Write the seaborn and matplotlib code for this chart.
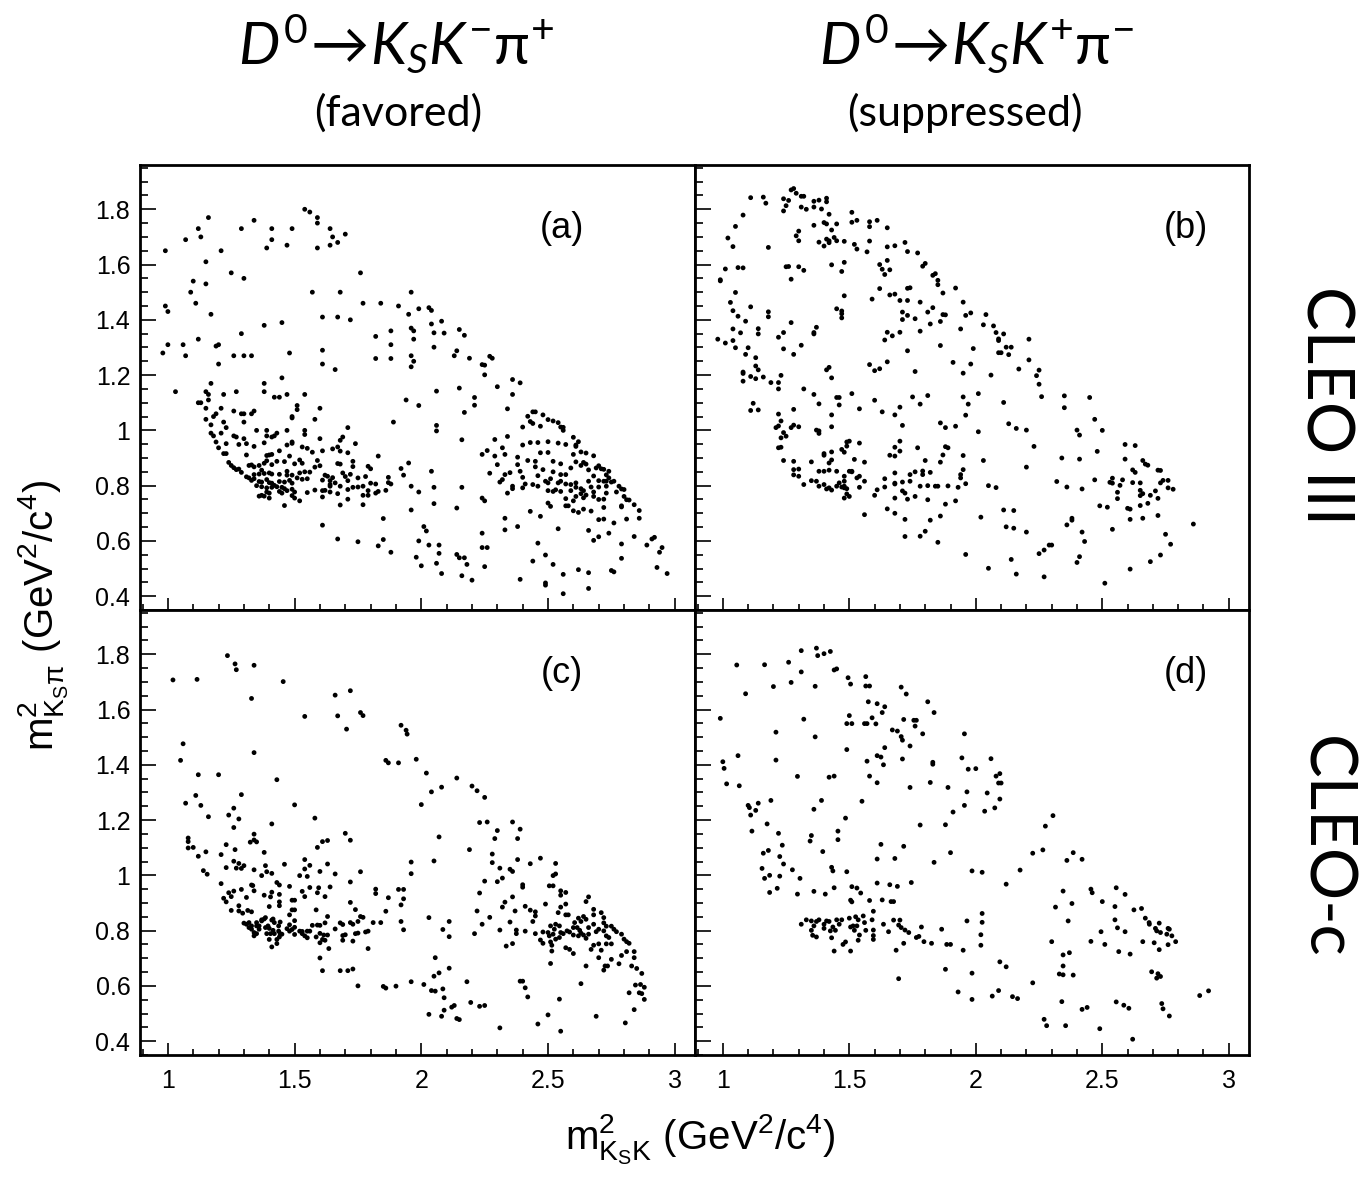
import matplotlib
matplotlib.use("Agg")
import matplotlib.pyplot as plt
import matplotlib.ticker as mticker
import pandas as pd
import seaborn as sns

# (m2_KsK, m2_Kspi) candidates, GeV^2/c^4
# (a) favored, CLEO III
fav_cleo3 = [
    (1.54,1.80),(1.56,1.79),(1.16,1.77),(1.59,1.77),(1.59,1.75),(1.34,1.76),(1.12,1.73),(1.29,1.73),
    (1.41,1.73),(1.49,1.73),(1.64,1.73),(1.13,1.70),(1.07,1.69),(1.41,1.69),(1.65,1.70),(1.67,1.68),
    (1.70,1.71),(1.64,1.67),(1.39,1.66),(1.47,1.67),(1.59,1.66),(0.99,1.65),(1.21,1.65),(1.15,1.61),
    (1.25,1.57),(1.30,1.55),(1.76,1.57),(1.10,1.54),(1.15,1.53),(1.09,1.50),(1.57,1.50),(1.68,1.50),
    (1.96,1.50),(1.11,1.46),(0.99,1.45),(1.00,1.43),(1.77,1.46),(1.84,1.46),(1.91,1.45),(1.99,1.44),
    (1.95,1.42),(1.17,1.42),(1.61,1.41),(1.67,1.41),(1.72,1.40),(1.45,1.39),(1.38,1.38),(1.96,1.37),
    (1.97,1.36),(1.88,1.36),(1.29,1.35),(1.12,1.33),(1.82,1.34),(1.97,1.33),(1.00,1.31),(1.06,1.31),
    (1.88,1.31),(1.19,1.305),(1.20,1.31),(0.98,1.28),(1.07,1.27),(1.61,1.29),(1.48,1.28),(1.26,1.27),
    (1.30,1.27),(1.33,1.27),(1.96,1.27),(1.97,1.25),(1.61,1.24),(1.82,1.26),(1.88,1.26),(1.96,1.23),
    (1.20,1.24),(1.66,1.22),(1.45,1.19),(1.17,1.17),(1.38,1.17),(1.38,1.14),(1.03,1.14),(1.15,1.14),
    (1.16,1.13),(1.22,1.13),(1.27,1.14),(1.42,1.12),(1.44,1.12),(1.47,1.13),(1.54,1.13),(1.94,1.11),
    (1.99,1.09),(1.12,1.10),(1.13,1.10),(1.16,1.11),(1.15,1.08),(1.51,1.09),(1.51,1.075),(1.60,1.08),
    (1.26,1.07),(1.19,1.06),(1.18,1.05),(1.21,1.08),(1.30,1.06),(1.29,1.06),(1.33,1.06),(1.34,1.07),
    (1.49,1.05),(1.49,1.045),(1.58,1.04),(1.15,1.04),(1.30,1.03),(1.22,1.03),(1.89,1.03),(1.17,1.02),
    (1.21,0.99),(1.23,1.01),(1.17,0.99),(1.18,0.98),(1.35,1.00),(1.47,1.00),(1.54,1.00),(1.54,0.985),
    (1.71,1.01),(1.39,1.00),(1.43,0.99),(1.26,0.98),(1.27,0.976),(1.30,0.97),(1.39,0.98),(1.41,0.976),
    (1.42,0.98),(1.60,0.97),(1.69,0.976),(1.68,0.964),(1.19,0.958),(1.23,0.952),(1.28,0.949),(1.31,0.952),
    (1.38,0.955),(1.49,0.953),(1.47,0.947),(1.49,0.958),(1.53,0.94),(1.55,0.935),(1.57,0.921),(1.61,0.926),
    (1.65,0.933),(1.67,0.94),(1.68,0.925),(1.74,0.952),(1.71,0.919),(1.20,0.937),(1.22,0.916),(1.23,0.916),
    (1.34,0.942),(1.44,0.926),(1.31,0.911),(1.39,0.909),(1.40,0.911),(1.41,0.913),(1.48,0.907),(1.83,0.907),
    (1.24,0.884),(1.52,0.893),(1.53,0.881),(1.59,0.891),(1.73,0.888),(1.25,0.873),(1.26,0.865),(1.27,0.858),
    (1.28,0.86),(1.29,0.848),(1.32,0.873),(1.33,0.875),(1.34,0.868),(1.36,0.873),(1.38,0.881),(1.39,0.89),
    (1.41,0.876),(1.43,0.888),(1.46,0.887),(1.50,0.879),(1.58,0.867),(1.60,0.872),(1.67,0.88),(1.68,0.878),
    (1.73,0.869),(1.79,0.87),(1.80,0.861),(1.92,0.862),(1.95,0.882),(1.31,0.832),(1.32,0.828),(1.34,0.84),
    (1.34,0.825),(1.36,0.842),(1.37,0.856),(1.38,0.844),(1.40,0.846),(1.41,0.842),(1.44,0.841),(1.47,0.852),
    (1.47,0.838),(1.49,0.838),(1.52,0.846),(1.54,0.85),(1.56,0.849),(1.62,0.838),(1.63,0.834),(1.65,0.829),
    (1.69,0.846),(1.70,0.833),(1.72,0.841),(1.75,0.828),(1.78,0.833),(1.87,0.83),(1.93,0.838),(1.33,0.819),
    (1.36,0.815),(1.37,0.813),(1.39,0.822),(1.40,0.811),(1.41,0.809),(1.42,0.801),(1.44,0.815),(1.46,0.813),
    (1.48,0.819),(1.51,0.828),(1.53,0.823),(1.55,0.825),(1.61,0.82),(1.64,0.818),(1.66,0.81),(1.71,0.818),
    (1.73,0.794),(1.75,0.795),(1.80,0.809),(1.82,0.806),(1.87,0.811),(1.88,0.806),(1.35,0.80),(1.37,0.796),
    (1.39,0.792),(1.41,0.794),(1.43,0.796),(1.45,0.794),(1.46,0.789),(1.49,0.809),(1.49,0.787),(1.64,0.804),
    (1.64,0.798),(1.68,0.798),(1.77,0.798),(1.71,0.786),(1.96,0.798),(1.99,0.777),(1.61,0.782),(1.62,0.783),
    (1.39,0.777),(1.40,0.773),(1.44,0.779),(1.45,0.773),(1.47,0.782),(1.50,0.777),(1.55,0.775),(1.58,0.784),
    (1.64,0.777),(1.67,0.771),(1.79,0.782),(1.82,0.773),(1.83,0.779),(1.86,0.783),(1.36,0.762),(1.37,0.765),
    (1.38,0.762),(1.40,0.755),(1.49,0.764),(1.50,0.755),(1.61,0.759),(1.71,0.751),(1.52,0.745),(1.77,0.765),
    (1.79,0.765),(1.46,0.728),(1.68,0.73),(1.77,0.731),(1.96,0.712),(1.85,0.681),(1.61,0.657),(1.67,0.607),
    (1.75,0.597),(1.85,0.605),(1.83,0.582),(1.99,0.60),(1.88,0.559),(1.98,0.541),
    (2.03,1.444),(2.04,1.434),(2.04,1.385),(2.08,1.395),(2.05,1.353),(2.09,1.352),(2.15,1.365),(2.17,1.344),
    (2.05,1.301),(2.13,1.27),(2.14,1.288),(2.19,1.261),(2.24,1.238),(2.25,1.236),(2.27,1.268),(2.28,1.261),
    (2.25,1.201),(2.15,1.153),(2.06,1.142),(2.21,1.119),(2.21,1.091),(2.30,1.158),(2.36,1.184),(2.39,1.172),
    (2.36,1.13),(2.34,1.078),(2.17,1.065),(2.06,1.018),(2.06,0.998),(2.16,0.966),(2.42,1.051),(2.43,1.032),
    (2.44,1.067),(2.45,1.067),(2.44,1.025),(2.47,1.015),(2.40,1.012),(2.48,1.056),(2.50,1.039),(2.52,1.034),
    (2.54,1.028),(2.55,1.012),(2.56,1.011),(2.56,1.00),(2.60,0.975),(2.62,0.959),(2.61,0.942),(2.63,0.922),
    (2.65,0.918),(2.68,0.908),(2.64,0.884),(2.60,0.913),(2.61,0.886),(2.63,0.873),(2.65,0.878),(2.66,0.857),
    (2.69,0.864),(2.70,0.872),(2.71,0.861),(2.72,0.859),(2.74,0.852),(2.73,0.839),(2.73,0.816),(2.75,0.813),
    (2.76,0.816),(2.72,0.816),(2.70,0.818),(2.68,0.835),(2.66,0.816),(2.67,0.795),(2.70,0.795),(2.73,0.798),
    (2.74,0.828),(2.78,0.798),(2.80,0.786),(2.79,0.788),(2.68,0.777),(2.68,0.761),(2.70,0.75),(2.72,0.751),
    (2.73,0.773),(2.77,0.777),(2.80,0.761),(2.81,0.749),(2.82,0.748),(2.84,0.731),(2.86,0.71),(2.86,0.682),
    (2.81,0.679),(2.76,0.665),(2.79,0.727),(2.79,0.723),(2.72,0.721),(2.72,0.679),(2.70,0.677),(2.67,0.708),
    (2.64,0.715),(2.62,0.703),(2.60,0.709),(2.58,0.727),(2.57,0.727),(2.57,0.753),(2.60,0.745),(2.61,0.761),
    (2.63,0.771),(2.64,0.756),(2.65,0.766),(2.64,0.782),(2.63,0.789),(2.61,0.794),(2.61,0.81),(2.59,0.782),
    (2.59,0.804),(2.57,0.806),(2.55,0.816),(2.54,0.81),(2.53,0.785),(2.55,0.779),(2.52,0.779),(2.50,0.782),
    (2.50,0.81),(2.51,0.825),(2.52,0.85),(2.55,0.84),(2.57,0.84),(2.59,0.864),(2.55,0.879),(2.52,0.888),
    (2.50,0.92),(2.54,0.954),(2.57,0.949),(2.61,0.947),(2.50,0.959),(2.46,0.956),(2.43,0.956),(2.40,0.947),
    (2.38,0.903),(2.42,0.891),(2.45,0.888),(2.47,0.919),(2.45,0.868),(2.46,0.836),(2.48,0.858),(2.49,0.816),
    (2.46,0.798),(2.44,0.804),(2.41,0.806),(2.40,0.792),(2.40,0.83),(2.39,0.852),(2.38,0.876),(2.36,0.798),
    (2.36,0.789),(2.34,0.773),(2.31,0.813),(2.32,0.822),(2.33,0.84),(2.35,0.847),(2.27,0.845),(2.30,0.876),
    (2.24,0.913),(2.26,0.927),(2.29,0.907),(2.33,0.913),(2.29,0.967),(2.34,0.978),(2.32,0.937),(2.43,0.707),
    (2.47,0.689),(2.50,0.737),(2.51,0.725),(2.54,0.644),(2.66,0.638),(2.68,0.602),(2.70,0.615),(2.74,0.628),
    (2.79,0.589),(2.84,0.616),(2.89,0.585),(2.91,0.607),(2.92,0.613),(2.95,0.576),(2.94,0.559),(2.93,0.504),
    (2.97,0.482),(2.79,0.537),(2.75,0.493),(2.76,0.488),(2.66,0.485),(2.66,0.428),(2.62,0.496),(2.56,0.409),
    (2.56,0.479),(2.52,0.515),(2.49,0.549),(2.49,0.448),(2.49,0.44),(2.46,0.592),(2.44,0.527),(2.39,0.461),
    (2.38,0.652),(2.33,0.682),(2.33,0.64),(2.24,0.628),(2.24,0.576),(2.26,0.576),(2.25,0.507),(2.20,0.458),
    (2.16,0.474),(2.18,0.515),(2.17,0.539),(2.15,0.539),(2.14,0.551),(2.14,0.719),(2.08,0.482),(2.07,0.555),
    (2.06,0.519),(2.07,0.585),(2.03,0.585),(2.02,0.636),(2.01,0.652),(2.00,0.51),(2.05,0.735),(2.05,0.794),
    (2.04,0.852),(2.16,0.794),(2.24,0.755),(2.25,0.745),
]

# (b) suppressed, CLEO III
sup_cleo3 = [
    (1.27,1.87),(1.28,1.875),(1.29,1.858),(1.11,1.842),(1.16,1.844),(1.17,1.822),(1.24,1.838),(1.26,1.832),
    (1.31,1.847),(1.32,1.847),(1.36,1.829),(1.38,1.833),(1.41,1.84),(1.41,1.827),(1.25,1.813),(1.24,1.794),
    (1.31,1.808),(1.33,1.80),(1.36,1.808),(1.39,1.801),(1.08,1.779),(1.42,1.782),(1.51,1.789),(1.51,1.753),
    (1.53,1.76),(1.58,1.755),(1.61,1.76),(1.58,1.737),(1.65,1.733),(1.05,1.738),(1.36,1.742),(1.40,1.752),
    (1.41,1.747),(1.45,1.747),(1.43,1.725),(1.02,1.696),(1.04,1.665),(1.18,1.662),(1.29,1.704),(1.30,1.721),
    (1.30,1.686),(1.38,1.681),(1.40,1.667),(1.41,1.692),(1.42,1.686),(1.42,1.679),(1.44,1.698),(1.45,1.686),
    (1.48,1.684),(1.52,1.673),(1.53,1.656),(1.57,1.646),(1.58,1.685),(1.65,1.664),(1.68,1.668),(1.72,1.68),
    (1.73,1.647),(1.77,1.642),(0.99,1.545),(0.99,1.541),(1.01,1.584),(1.06,1.589),(1.08,1.588),(1.25,1.592),
    (1.26,1.593),(1.27,1.547),(1.30,1.592),(1.32,1.579),(1.43,1.599),(1.48,1.608),(1.47,1.575),(1.62,1.60),
    (1.63,1.583),(1.64,1.564),(1.65,1.615),(1.66,1.581),(1.79,1.594),(1.80,1.604),(1.83,1.561),(1.84,1.567),
    (1.85,1.543),(1.85,1.527),(1.87,1.497),(1.92,1.515),(1.05,1.499),(1.03,1.463),(1.04,1.433),(1.06,1.413),
    (1.11,1.447),(1.09,1.395),(1.04,1.367),(1.07,1.353),(1.14,1.368),(1.14,1.349),(1.18,1.429),(1.18,1.411),
    (1.27,1.39),(1.22,1.337),(1.24,1.354),(1.24,1.295),(1.28,1.275),(1.31,1.308),(1.36,1.349),(1.36,1.354),
    (1.37,1.373),(1.45,1.44),(1.47,1.432),(1.47,1.422),(1.47,1.407),(1.48,1.487),(1.59,1.475),(1.62,1.513),
    (1.66,1.49),(1.68,1.493),(1.70,1.47),(1.71,1.428),(1.71,1.401),(1.73,1.47),(1.73,1.416),(1.73,1.514),
    (1.74,1.516),(1.76,1.404),(1.78,1.464),(1.81,1.428),(1.83,1.444),(1.82,1.385),(1.86,1.394),(1.87,1.419),
    (1.88,1.418),(1.95,1.464),(1.96,1.416),(1.98,1.425),(1.94,1.367),(1.86,1.307),(1.78,1.359),(1.70,1.355),
    (1.65,1.355),(1.67,1.342),(1.64,1.327),(1.73,1.288),(0.98,1.33),(1.01,1.316),(1.04,1.325),(1.05,1.299),
    (1.10,1.299),(1.09,1.275),(1.13,1.263),(1.13,1.233),(1.14,1.219),(1.08,1.211),(1.08,1.206),(1.08,1.178),
    (1.11,1.195),(1.13,1.187),(1.16,1.193),(1.19,1.173),(1.22,1.173),(1.22,1.15),(1.23,1.199),(1.11,1.072),
    (1.12,1.098),(1.14,1.074),(1.32,1.15),(1.36,1.13),(1.38,1.096),(1.41,1.219),(1.42,1.228),(1.43,1.19),
    (1.45,1.119),(1.46,1.119),(1.46,1.092),(1.51,1.133),(1.54,1.078),(1.58,1.238),(1.60,1.216),(1.62,1.223),
    (1.65,1.248),(1.76,1.213),(1.60,1.109),(1.63,1.067),(1.68,1.056),(1.70,1.084),(1.71,1.018),(1.70,0.961),
    (1.68,0.939),(1.75,1.121),(1.78,1.095),(1.81,1.126),(1.77,0.937),(1.91,1.246),(1.95,1.207),(1.98,1.24),
    (1.95,1.121),(1.97,1.095),(1.96,1.055),(1.86,1.027),(1.88,1.01),(1.92,1.015),(1.88,0.941),(1.89,0.937),
    (1.87,0.911),(1.86,0.885),(1.95,0.909),(1.80,0.891),(1.95,0.858),(1.94,0.84),(1.94,0.828),(1.96,0.807),
    (1.93,0.794),(1.89,0.799),(1.85,0.798),(1.84,0.798),(1.82,0.848),(1.79,0.853),(1.79,0.84),(1.78,0.798),
    (1.81,0.80),(1.76,0.85),(1.74,0.84),(1.74,0.816),(1.71,0.813),(1.71,0.781),(1.72,0.773),(1.73,0.751),
    (1.76,0.761),(1.81,0.749),(1.88,0.733),(1.92,0.745),(1.86,0.69),(1.82,0.675),(1.72,0.678),(1.72,0.616),
    (1.78,0.617),(1.80,0.635),(1.85,0.595),(1.96,0.551),(1.68,0.70),(1.65,0.716),(1.68,0.755),(1.68,0.806),
    (1.68,0.809),(1.68,0.846),(1.64,0.825),(1.64,0.795),(1.61,0.785),(1.60,0.765),(1.68,0.907),(1.66,0.91),
    (1.70,0.925),(1.54,0.834),(1.56,0.816),(1.54,0.794),(1.53,0.828),(1.51,0.85),(1.52,0.895),(1.54,0.954),
    (1.56,0.885),(1.56,0.695),(1.49,0.958),(1.50,0.961),(1.47,0.931),(1.49,0.943),(1.48,0.921),(1.50,0.761),
    (1.48,0.755),(1.49,0.77),(1.48,0.792),(1.48,0.798),(1.49,0.789),(1.47,0.795),(1.48,0.816),(1.48,0.834),
    (1.50,0.852),(1.51,0.852),(1.46,0.81),(1.45,0.798),(1.42,0.792),(1.43,0.784),(1.41,0.788),(1.40,0.804),
    (1.38,0.798),(1.37,0.816),(1.35,0.818),(1.32,0.804),(1.45,0.852),(1.42,0.856),(1.40,0.852),(1.38,0.852),
    (1.35,0.886),(1.42,0.882),(1.43,0.893),(1.43,0.922),(1.40,0.91),(1.40,0.916),(1.43,1.013),(1.43,1.056),
    (1.24,0.891),(1.28,0.888),(1.28,0.858),(1.30,0.86),(1.28,0.839),(1.30,0.834),(1.22,0.937),(1.23,0.939),
    (1.23,0.973),(1.24,0.992),(1.25,0.979),(1.21,1.01),(1.22,1.016),(1.23,1.034),(1.22,1.059),(1.28,1.019),
    (1.30,1.013),(1.27,1.01),(1.28,1.076),(1.37,1.001),(1.38,0.998),(1.38,0.989),
    (2.04,1.419),(2.03,1.382),(2.07,1.378),(2.08,1.354),(2.09,1.331),(2.09,1.325),(2.11,1.349),(2.12,1.301),
    (2.14,1.301),(2.09,1.281),(2.10,1.281),(2.13,1.274),(1.99,1.296),(2.06,1.20),(2.21,1.33),(2.21,1.255),
    (2.17,1.222),(2.25,1.218),(2.24,1.198),(2.25,1.167),(2.26,1.122),(2.11,1.101),(2.01,1.133),(2.13,1.024),
    (2.16,1.007),(2.20,1.001),(2.01,0.995),(2.23,0.942),(2.35,1.125),(2.35,1.082),(2.45,1.119),(2.47,1.04),
    (2.50,1.00),(2.40,1.001),(2.41,0.983),(2.48,0.924),(2.34,0.90),(2.41,0.896),(2.03,0.891),(2.20,0.867),
    (2.05,0.80),(2.08,0.793),(2.32,0.815),(2.36,0.795),(2.42,0.788),(2.47,0.821),(2.59,0.949),(2.63,0.945),
    (2.59,0.896),(2.62,0.857),(2.63,0.848),(2.66,0.891),(2.67,0.878),(2.68,0.874),(2.72,0.856),(2.73,0.855),
    (2.74,0.819),(2.73,0.81),(2.76,0.819),(2.76,0.792),(2.78,0.787),(2.71,0.781),(2.72,0.754),(2.68,0.736),
    (2.69,0.765),(2.65,0.783),(2.66,0.771),(2.65,0.764),(2.65,0.81),(2.62,0.811),(2.58,0.821),(2.57,0.801),
    (2.54,0.827),(2.54,0.809),(2.53,0.812),(2.56,0.776),(2.56,0.753),(2.60,0.718),(2.61,0.715),(2.61,0.678),
    (2.65,0.728),(2.66,0.682),(2.72,0.692),(2.49,0.727),(2.52,0.722),(2.54,0.642),(2.75,0.624),(2.77,0.588),
    (2.73,0.549),(2.69,0.525),(2.61,0.498),(2.51,0.447),(2.86,0.661),(2.40,0.522),(2.41,0.543),(2.43,0.598),
    (2.42,0.632),(2.36,0.658),(2.38,0.675),(2.38,0.682),(2.29,0.585),(2.30,0.585),(2.27,0.567),(2.25,0.554),
    (2.27,0.47),(2.20,0.632),(2.15,0.646),(2.12,0.651),(2.11,0.712),(2.15,0.71),(2.02,0.686),(2.14,0.533),
    (2.16,0.48),(2.05,0.501),
]

# (c) favored, CLEO-c
fav_cleoc = [
    (1.235,1.795),(1.265,1.765),(1.27,1.744),(1.34,1.76),(1.02,1.707),(1.115,1.709),(1.455,1.701),(1.33,1.64),
    (1.66,1.652),(1.72,1.668),(1.67,1.577),(1.76,1.589),(1.77,1.578),(1.54,1.575),(1.705,1.529),(1.92,1.543),
    (1.94,1.525),(1.944,1.511),(1.06,1.476),(1.34,1.444),(1.05,1.416),(1.86,1.416),(1.87,1.407),(1.91,1.407),
    (1.98,1.42),(1.12,1.364),(1.20,1.364),(1.43,1.346),(1.11,1.289),(1.29,1.292),(1.07,1.261),(1.13,1.253),
    (1.50,1.255),(1.26,1.243),(1.24,1.218),(1.28,1.204),(1.16,1.212),(1.58,1.207),(1.41,1.186),(1.26,1.173),
    (1.70,1.152),(1.34,1.149),(1.08,1.135),(1.08,1.122),(1.34,1.128),(1.35,1.121),(1.325,1.12),(1.61,1.122),
    (1.63,1.126),(1.72,1.127),(1.08,1.099),(1.10,1.101),(1.23,1.111),(1.59,1.101),(1.15,1.085),(1.12,1.069),
    (1.21,1.075),(1.265,1.093),(1.38,1.083),(1.26,1.051),(1.28,1.043),(1.27,1.026),(1.29,1.025),(1.30,1.035),
    (1.23,1.028),(1.14,1.017),(1.155,1.004),(1.34,1.02),(1.385,1.035),(1.39,1.013),(1.41,1.007),(1.37,0.999),
    (1.46,1.04),(1.54,1.057),(1.54,1.023),(1.56,1.036),(1.52,0.999),(1.55,0.996),(1.60,1.014),(1.63,1.041),
    (1.66,1.005),(1.76,1.013),(1.96,1.048),(1.96,1.006),(1.72,0.976),(1.21,0.97),(1.33,0.965),(1.335,0.963),
    (1.24,0.937),(1.34,0.944),(1.43,0.974),(1.44,0.965),(1.48,0.96),(1.56,0.956),(1.595,0.955),(1.64,0.958),
    (1.82,0.95),(1.82,0.934),(1.91,0.949),(1.93,0.949),(1.22,0.917),(1.23,0.904),(1.25,0.923),(1.26,0.943),
    (1.29,0.949),(1.31,0.92),(1.38,0.928),(1.405,0.922),(1.41,0.939),(1.44,0.931),(1.53,0.942),(1.54,0.923),
    (1.59,0.937),(1.62,0.923),(1.87,0.919),(1.93,0.915),(1.92,0.893),(1.25,0.873),(1.28,0.89),(1.28,0.871),
    (1.295,0.863),(1.315,0.873),(1.33,0.868),(1.40,0.887),(1.44,0.904),(1.44,0.89),(1.49,0.91),(1.50,0.91),
    (1.49,0.875),(1.50,0.875),(1.48,0.857),(1.585,0.875),(1.72,0.902),(1.74,0.876),(1.86,0.87),(1.63,0.851),
    (1.76,0.851),(1.77,0.848),(1.75,0.833),(1.73,0.823),(1.72,0.829),(1.69,0.822),(1.68,0.828),(1.81,0.829),
    (1.84,0.829),(1.92,0.833),(1.93,0.803),(1.66,0.806),(1.62,0.828),(1.60,0.819),(1.59,0.82),(1.57,0.819),
    (1.56,0.798),(1.55,0.798),(1.53,0.797),(1.52,0.798),(1.50,0.836),(1.50,0.812),(1.48,0.821),(1.47,0.807),
    (1.49,0.804),(1.48,0.798),(1.50,0.786),(1.53,0.789),(1.54,0.781),(1.55,0.774),(1.585,0.777),(1.60,0.79),
    (1.615,0.784),(1.63,0.784),(1.61,0.768),(1.60,0.756),(1.62,0.765),(1.635,0.735),(1.69,0.782),(1.70,0.785),
    (1.69,0.765),(1.74,0.789),(1.75,0.791),(1.73,0.762),(1.78,0.795),(1.79,0.798),(1.79,0.735),(1.60,0.701),
    (1.61,0.655),(1.68,0.655),(1.71,0.655),(1.73,0.661),(1.75,0.60),(1.85,0.598),(1.86,0.592),(1.90,0.599),
    (1.96,0.615),(1.30,0.827),(1.31,0.823),(1.32,0.829),(1.32,0.811),(1.33,0.817),(1.33,0.805),(1.34,0.793),
    (1.34,0.781),(1.35,0.817),(1.35,0.829),(1.36,0.817),(1.36,0.805),(1.35,0.789),(1.37,0.839),(1.38,0.842),
    (1.385,0.847),(1.37,0.835),(1.385,0.811),(1.39,0.789),(1.395,0.817),(1.40,0.808),(1.41,0.838),(1.415,0.842),
    (1.42,0.829),(1.415,0.801),(1.405,0.789),(1.42,0.789),(1.40,0.768),(1.41,0.741),(1.43,0.753),(1.43,0.768),
    (1.44,0.777),(1.443,0.789),(1.45,0.787),(1.437,0.798),(1.437,0.817),(1.443,0.831),
    (2.02,1.37),(2.04,1.302),(2.08,1.319),(2.14,1.352),(2.00,1.256),(2.20,1.323),(2.22,1.306),(2.25,1.282),
    (2.07,1.139),(2.23,1.191),(2.26,1.193),(2.36,1.193),(2.39,1.167),(2.30,1.162),(2.29,1.133),(2.38,1.133),
    (2.19,1.093),(2.05,1.052),(2.28,1.077),(2.28,1.046),(2.38,1.057),(2.43,1.042),(2.47,1.062),(2.53,1.043),
    (2.31,1.026),(2.35,1.022),(2.36,1.014),(2.32,0.99),(2.30,0.977),(2.25,0.979),(2.23,0.936),(2.36,0.922),
    (2.40,0.957),(2.40,0.966),(2.505,0.962),(2.52,0.962),(2.52,0.999),(2.53,1.005),(2.55,0.944),(2.55,0.928),
    (2.57,0.938),(2.49,0.896),(2.41,0.888),(2.43,0.874),(2.45,0.868),(2.32,0.885),(2.33,0.903),(2.37,0.871),
    (2.35,0.831),(2.44,0.833),(2.45,0.853),(2.55,0.885),(2.57,0.896),(2.54,0.865),(2.57,0.857),(2.58,0.857),
    (2.65,0.905),(2.66,0.922),(2.68,0.877),(2.68,0.857),(2.71,0.865),(2.72,0.847),(2.72,0.828),(2.73,0.816),
    (2.75,0.816),(2.76,0.805),(2.77,0.796),(2.79,0.787),(2.80,0.769),(2.81,0.76),(2.82,0.754),(2.72,0.799),
    (2.73,0.781),(2.74,0.775),(2.70,0.805),(2.69,0.796),(2.68,0.823),(2.66,0.811),(2.66,0.787),(2.65,0.841),
    (2.64,0.851),(2.63,0.833),(2.62,0.845),(2.605,0.829),(2.60,0.811),(2.615,0.811),(2.625,0.801),(2.63,0.791),
    (2.64,0.784),(2.65,0.772),(2.62,0.781),(2.60,0.784),(2.585,0.795),(2.575,0.799),(2.56,0.789),(2.55,0.793),
    (2.545,0.817),(2.53,0.823),(2.525,0.805),(2.52,0.787),(2.53,0.769),(2.545,0.775),(2.51,0.817),(2.50,0.793),
    (2.505,0.781),(2.51,0.759),(2.515,0.747),(2.515,0.726),(2.51,0.681),(2.48,0.795),(2.47,0.766),(2.48,0.754),
    (2.57,0.738),(2.585,0.732),(2.60,0.717),(2.67,0.732),(2.68,0.747),(2.70,0.752),(2.71,0.729),(2.73,0.752),
    (2.75,0.752),(2.70,0.702),(2.725,0.672),(2.735,0.672),(2.72,0.657),(2.75,0.696),(2.78,0.68),(2.79,0.71),
    (2.81,0.724),(2.84,0.724),(2.84,0.702),(2.83,0.672),(2.85,0.663),(2.87,0.645),(2.845,0.603),(2.865,0.605),
    (2.88,0.595),(2.86,0.575),(2.87,0.572),(2.88,0.551),(2.82,0.575),(2.84,0.514),(2.805,0.466),(2.65,0.672),
    (2.63,0.608),(2.69,0.49),(2.545,0.552),(2.50,0.495),(2.55,0.436),(2.46,0.462),(2.31,0.448),(2.39,0.617),
    (2.40,0.617),(2.41,0.593),(2.42,0.56),(2.18,0.615),(2.195,0.54),(2.23,0.526),(2.25,0.529),(2.14,0.482),
    (2.15,0.478),(2.13,0.529),(2.12,0.523),(2.11,0.664),(2.085,0.589),(2.09,0.557),(2.09,0.512),(2.08,0.49),
    (2.055,0.702),(2.07,0.647),(2.05,0.635),(2.04,0.583),(2.055,0.581),(2.01,0.605),(2.03,0.497),(2.03,0.847),
    (2.085,0.804),(2.11,0.833),(2.11,0.778),(2.21,0.789),(2.22,0.871),(2.24,0.823),(2.27,0.848),(2.31,0.802),
    (2.335,0.744),(2.36,0.753),(2.375,0.802),(2.375,0.789),(2.41,0.798),(2.45,0.789),
]

# (d) suppressed, CLEO-c
sup_cleoc = [
    (1.37,1.822),(1.375,1.795),(1.40,1.802),(1.425,1.81),(1.31,1.813),(1.26,1.771),(1.055,1.761),(1.165,1.762),
    (1.31,1.736),(1.44,1.743),(1.45,1.747),(1.27,1.698),(1.20,1.683),(1.365,1.684),(1.495,1.715),(1.505,1.692),
    (1.565,1.719),(1.565,1.685),(1.58,1.685),(1.705,1.681),(1.725,1.656),(1.09,1.657),(1.81,1.628),(1.835,1.589),
    (1.575,1.628),(1.61,1.621),(1.64,1.61),(1.63,1.589),(0.99,1.568),(1.32,1.565),(1.49,1.549),(1.51,1.549),
    (1.50,1.578),(1.56,1.549),(1.57,1.549),(1.59,1.57),(1.605,1.548),(1.715,1.564),(1.755,1.561),(1.765,1.561),
    (1.76,1.54),(1.67,1.526),(1.69,1.522),(1.705,1.502),(1.71,1.489),(1.74,1.468),(1.79,1.512),(1.955,1.512),
    (1.21,1.518),(1.365,1.501),(1.49,1.455),(1.64,1.462),(1.61,1.433),(1.625,1.428),(1.635,1.40),(1.57,1.413),
    (1.71,1.421),(1.83,1.409),(1.83,1.402),(1.945,1.425),(1.97,1.384),(1.06,1.433),(1.00,1.411),(1.005,1.387),
    (1.015,1.331),(1.065,1.324),(1.21,1.417),(1.295,1.358),(1.42,1.355),(1.44,1.359),(1.58,1.359),(1.61,1.335),
    (1.74,1.318),(1.82,1.336),(1.89,1.318),(1.965,1.302),(1.955,1.253),(1.91,1.229),(1.88,1.183),(1.78,1.182),
    (1.10,1.253),(1.105,1.245),(1.14,1.261),(1.13,1.235),(1.11,1.218),(1.19,1.271),(1.39,1.271),(1.36,1.239),
    (1.55,1.268),(1.485,1.207),(1.175,1.186),(1.115,1.16),(1.22,1.152),(1.35,1.144),(1.345,1.124),(1.455,1.16),
    (1.455,1.129),(1.235,1.109),(1.16,1.08),(1.18,1.09),(1.225,1.068),(1.24,1.041),(1.155,1.025),(1.165,0.989),
    (1.185,1.00),(1.225,0.997),(1.215,0.953),(1.185,0.938),(1.275,1.02),(1.305,0.989),(1.295,0.932),(1.36,0.942),
    (1.405,0.932),(1.395,1.086),(1.43,1.029),(1.435,1.016),(1.44,0.955),(1.49,1.013),(1.625,1.112),(1.61,1.059),
    (1.68,1.061),(1.715,1.105),(1.835,1.047),(1.90,1.082),(1.745,0.974),(1.61,0.972),(1.66,0.966),(1.69,0.96),
    (1.51,0.959),(1.53,0.954),(1.545,0.936),(1.505,0.91),(1.51,0.904),(1.58,0.909),(1.63,0.911),(1.665,0.905),
    (1.675,0.905),(1.595,0.87),(1.31,0.823),(1.33,0.839),(1.35,0.835),(1.35,0.801),(1.36,0.817),(1.355,0.783),
    (1.37,0.777),(1.37,0.833),(1.38,0.839),(1.40,0.823),(1.40,0.808),(1.41,0.835),(1.42,0.833),(1.425,0.799),
    (1.435,0.813),(1.445,0.801),(1.45,0.839),(1.46,0.823),(1.47,0.839),(1.43,0.774),(1.44,0.726),(1.475,0.75),
    (1.485,0.759),(1.50,0.845),(1.505,0.813),(1.515,0.817),(1.52,0.801),(1.525,0.85),(1.53,0.817),(1.535,0.839),
    (1.54,0.784),(1.535,0.765),(1.555,0.853),(1.56,0.829),(1.565,0.801),(1.59,0.839),(1.595,0.802),(1.595,0.782),
    (1.595,0.768),(1.505,0.726),(1.635,0.823),(1.655,0.796),(1.675,0.838),(1.695,0.82),(1.70,0.838),(1.705,0.811),
    (1.72,0.802),(1.735,0.793),(1.715,0.754),(1.685,0.729),(1.765,0.775),(1.775,0.779),(1.785,0.813),(1.795,0.76),
    (1.825,0.754),(1.865,0.805),(1.885,0.75),(1.90,0.75),(1.95,0.729),(1.965,0.835),(1.88,0.66),(1.695,0.626),
    (1.93,0.578),
    (2.06,1.422),(2.00,1.386),(2.08,1.359),(2.095,1.368),(2.09,1.334),(2.10,1.334),(2.045,1.298),(2.095,1.276),
    (2.035,1.232),(2.075,1.244),(2.305,1.216),(2.275,1.178),(2.225,1.08),(2.265,1.092),(2.36,1.054),(2.385,1.082),
    (2.42,1.058),(2.175,1.019),(1.985,1.016),(2.025,1.011),(2.12,0.968),(2.345,0.943),(2.455,0.95),(2.46,0.937),
    (2.315,0.885),(2.38,0.898),(2.50,0.905),(2.555,0.955),(2.59,0.931),(2.55,0.887),(2.625,0.875),(2.655,0.88),
    (2.365,0.835),(2.55,0.839),(2.56,0.81),(2.59,0.796),(2.495,0.796),(2.67,0.845),(2.685,0.829),(2.686,0.823),
    (2.71,0.808),(2.715,0.799),(2.73,0.793),(2.725,0.827),(2.76,0.808),(2.765,0.805),(2.755,0.787),(2.775,0.781),
    (2.79,0.76),(2.76,0.749),(2.725,0.731),(2.705,0.756),(2.66,0.76),(2.51,0.75),(2.455,0.761),(2.30,0.76),
    (2.61,0.715),(2.565,0.724),(2.37,0.72),(2.345,0.712),(2.345,0.672),(2.33,0.643),(2.345,0.64),(2.385,0.639),
    (2.225,0.611),(2.095,0.687),(2.12,0.669),(1.985,0.646),(1.985,0.551),(2.065,0.563),(2.09,0.583),(2.145,0.561),
    (2.165,0.554),(2.02,0.747),(2.02,0.785),(2.025,0.83),(2.025,0.862),(2.34,0.543),(2.27,0.479),(2.28,0.456),
    (2.355,0.456),(2.42,0.515),(2.44,0.522),(2.49,0.445),(2.555,0.542),(2.585,0.53),(2.605,0.519),(2.62,0.407),
    (2.695,0.651),(2.715,0.628),(2.72,0.644),(2.73,0.634),(2.735,0.536),(2.74,0.517),(2.765,0.491),(2.885,0.565),
    (2.92,0.582),
]

panel_tags = ["(a)", "(b)", "(c)", "(d)"]
y_ticks = [0.4, 0.6, 0.8, 1.0, 1.2, 1.4, 1.6, 1.8]
x_ticks = [1.0, 1.5, 2.0, 2.5, 3.0]

sns.set_style("ticks")
plt.rcParams["font.family"] = ["Liberation Sans", "DejaVu Sans"]
plt.rcParams["text.color"] = "black"
plt.rcParams["mathtext.fontset"] = "custom"
plt.rcParams["mathtext.rm"] = "Lato"
plt.rcParams["mathtext.it"] = "Lato:italic"
plt.rcParams["mathtext.bf"] = "Lato:bold"
plt.rcParams["mathtext.fallback"] = "stixsans"

fig = plt.figure(figsize=(13.7, 11.79), dpi=100)

x0, xm, x1 = 0.1022, 0.5073, 0.9117
y0, ym, y1 = 0.1052, 0.4826, 0.8600
ax_a = fig.add_axes([x0, ym, xm - x0, y1 - ym])
ax_b = fig.add_axes([xm, ym, x1 - xm, y1 - ym])
ax_c = fig.add_axes([x0, y0, xm - x0, ym - y0])
ax_d = fig.add_axes([xm, y0, x1 - xm, ym - y0])

panels = [(ax_a, fav_cleo3), (ax_b, sup_cleo3), (ax_c, fav_cleoc), (ax_d, sup_cleoc)]

for i, (ax, pts) in enumerate(panels):
    df = pd.DataFrame(pts, columns=["m2_ksk", "m2_kspi"])
    sns.scatterplot(data=df, x="m2_ksk", y="m2_kspi", ax=ax, s=12, color="black",
                    edgecolor="none", linewidth=0, legend=False)
    ax.set_xlim(0.89, 3.08)
    ax.set_ylim(0.35, 1.96)
    ax.set_xlabel("")
    ax.set_ylabel("")
    ax.set_xticks(x_ticks)
    ax.set_yticks(y_ticks)
    ax.xaxis.set_minor_locator(mticker.MultipleLocator(0.1))
    ax.yaxis.set_minor_locator(mticker.MultipleLocator(0.05))
    ax.xaxis.set_major_formatter(mticker.FuncFormatter(lambda v, p: "%g" % v))
    ax.yaxis.set_major_formatter(mticker.FuncFormatter(lambda v, p: "%g" % v))
    ax.tick_params(which="both", direction="in", top=False, right=False, width=1.2,
                   labelsize=18, colors="black")
    ax.tick_params(axis="x", which="major", length=8.5, pad=10)
    ax.tick_params(axis="x", which="minor", length=4.3)
    ax.tick_params(axis="y", which="major", length=11.5, pad=7)
    ax.tick_params(axis="y", which="minor", length=5.8)
    if i < 2:
        ax.tick_params(axis="x", labelbottom=False)
    if i % 2 == 1:
        ax.tick_params(axis="y", labelleft=False)
    for sp in ax.spines.values():
        sp.set_linewidth(2)
        sp.set_color("black")
    tx = 0.76 if i % 2 == 0 else 0.886
    ax.text(tx, 0.858, panel_tags[i], transform=ax.transAxes, fontsize=26,
            ha="center", va="center", color="black")

fig.text(0.032, 0.478, r"$\mathregular{m^{2}_{K_{S}\pi}}$ (GeV$\mathregular{^{2}}$/c$\mathregular{^{4}}$)",
         rotation=90, ha="center", va="center", fontsize=29)
fig.text(0.511, 0.033, r"$\mathregular{m^{2}_{K_{S}K}}$ (GeV$\mathregular{^{2}}$/c$\mathregular{^{4}}$)",
         ha="center", va="center", fontsize=29)

fig.text(0.289, 0.962, r"$D^{0}\!\rightarrow\!K_{S}K^{-}\mathrm{\pi}^{+}$", ha="center", va="center",
         fontsize=42)
fig.text(0.291, 0.904, "(favored)", ha="center", va="center", fontsize=31, family="Lato")
fig.text(0.713, 0.962, r"$D^{0}\!\rightarrow\!K_{S}K^{+}\mathrm{\pi}^{-}$", ha="center", va="center",
         fontsize=42)
fig.text(0.704, 0.904, "(suppressed)", ha="center", va="center", fontsize=31, family="Lato")

fig.text(0.967, 0.656, "CLEO III", rotation=-90, ha="center", va="center", fontsize=47, family="Lato")
fig.text(0.967, 0.281, "CLEO-c", rotation=-90, ha="center", va="center", fontsize=47, family="Lato")

fig.savefig("out.png", dpi=100)
